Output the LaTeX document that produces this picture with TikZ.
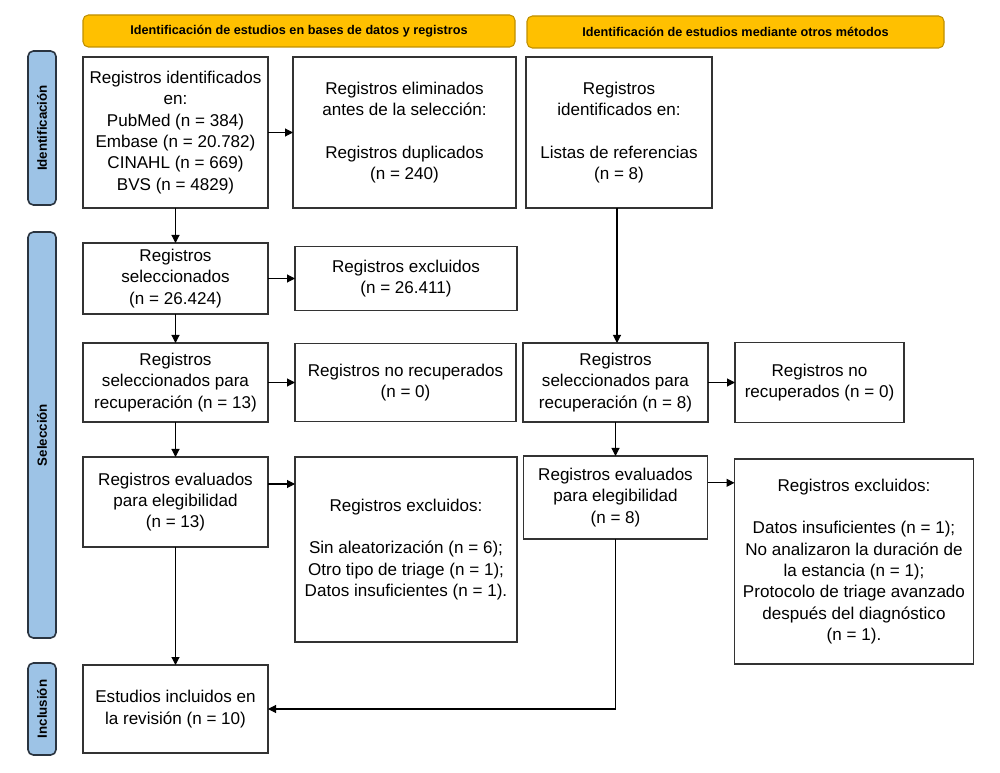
\documentclass[tikz,border=0pt]{standalone}
\usepackage{fontspec}
\setmainfont{Liberation Sans}
\usetikzlibrary{positioning,arrows.meta}

\definecolor{headyellow}{HTML}{FFC000}
\definecolor{headedge}{HTML}{C09000}
\definecolor{phaseblue}{HTML}{9DC3E6}
\definecolor{phaseedge}{HTML}{2A3440}
\definecolor{boxedge}{HTML}{333333}

\begin{document}
\begin{tikzpicture}[x=0.75pt, y=-0.75pt, node distance=20pt,
    box/.style={draw=boxedge, line width=1pt, align=center, inner sep=0pt, outer sep=0pt,
        font=\fontsize{12.8}{16}\selectfont},
    head/.style={draw=headedge, fill=headyellow, rounded corners=4pt, line width=0.8pt, outer sep=0pt,
        minimum height=24pt, inner sep=0pt, font=\fontsize{9.5}{11}\selectfont\bfseries},
    phase/.style={draw=phaseedge, fill=phaseblue, rounded corners=4pt, line width=1.2pt,
        rotate=90, minimum height=21pt, inner sep=0pt, font=\fontsize{10}{12}\selectfont\bfseries},
    arrow/.style={-{Triangle[length=6pt,width=6pt]}, line width=0.8pt}]

    \useasboundingbox (0,0) rectangle (1000,773);

    % databases column
    \node[box, minimum width=138.75pt, minimum height=113.25pt, anchor=north west] (A) at (83,57)
        {Registros identificados\\en:\\PubMed (n = 384)\\Embase (n = 20.782)\\CINAHL (n = 669)\\BVS (n = 4829)};
    \node[box, minimum width=167.25pt, minimum height=113.25pt, right=18.75pt of A] (B)
        {Registros eliminados\\antes de la selección:\\[16pt]Registros duplicados\\(n = 240)};
    \node[box, minimum width=138.75pt, minimum height=53.25pt, below=26.25pt of A] (D)
        {Registros\\seleccionados\\(n = 26.424)};
    \node[box, minimum width=166.5pt, minimum height=48pt, right=20.25pt of D] (E)
        {Registros excluidos\\(n = 26.411)};
    \node[box, minimum width=138.75pt, minimum height=59.25pt, below=21.75pt of D] (F)
        {Registros\\seleccionados para\\recuperación (n = 13)};
    \node[box, minimum width=165.75pt, minimum height=58.5pt, right=20.25pt of F] (G)
        {Registros no recuperados\\(n = 0)};
    \node[box, minimum width=138.75pt, minimum height=67.5pt, below=26.25pt of F] (H)
        {Registros evaluados\\para elegibilidad\\(n = 13)};
    \node[box, minimum width=166.5pt, minimum height=138.75pt, below right=0pt and 20.25pt of H.north east] (I)
        {Registros excluidos:\\[16pt]Sin aleatorización (n = 6);\\Otro tipo de triage (n = 1);\\Datos insuficientes (n = 1).};
    \node[box, minimum width=138.75pt, minimum height=66pt, below=88.5pt of H] (J)
        {Estudios incluidos en\\la revisión (n = 10)};

    % other methods column
    \node[box, minimum width=139.5pt, minimum height=113.25pt, right=7.5pt of B] (C)
        {Registros\\identificados en:\\[16pt]Listas de referencias\\(n = 8)};
    \node[box, minimum width=138.75pt, minimum height=59.25pt, right=191.25pt of F] (K)
        {Registros\\seleccionados para\\recuperación (n = 8)};
    \node[box, minimum width=126.75pt, minimum height=60pt, right=20.25pt of K] (L)
        {Registros no\\recuperados (n = 0)};
    \node[box, minimum width=138pt, minimum height=62.25pt, below=25.5pt of K] (M)
        {Registros evaluados\\para elegibilidad\\(n = 8)};
    \node[box, minimum width=179.25pt, minimum height=153.75pt, below right=2.25pt and 20.25pt of M.north east] (N)
        {Registros excluidos:\\[16pt]Datos insuficientes (n = 1);\\No analizaron la duración de\\la estancia (n = 1);\\Protocolo de triage avanzado\\después del diagnóstico\\(n = 1).};

    % headers
    \node[head, minimum width=324pt, above right=7.5pt and 0pt of A.north west] (HDB)
        {Identificación de estudios en bases de datos y registros};
    \node[head, minimum width=312.75pt, above right=6.75pt and 0.75pt of C.north west] (HOT)
        {Identificación de estudios mediante otros métodos};

    % phases
    \node[phase, minimum width=115.5pt] (P1) at (42,128) {Identificación};
    \node[phase, minimum width=304.5pt] (P2) at (42,435) {Selección};
    \node[phase, minimum width=69pt] (P3) at (42,709) {Inclusión};

    \draw[arrow] (A) -- (B);
    \draw[arrow] (A) -- (D);
    \draw[arrow] (D) -- (E);
    \draw[arrow] (D) -- (F);
    \draw[arrow] (F) -- (G);
    \draw[arrow] (F) -- (H);
    \draw[arrow] ([yshift=13.5pt]H.east) -- ([yshift=13.5pt]H.east -| I.west);
    \draw[arrow] (H) -- (J);
    \draw[arrow] ([xshift=-1.5pt]C.south) -- ([xshift=-1.5pt]C.south |- K.north);
    \draw[arrow] (K) -- (L);
    \draw[arrow] (K) -- (M);
    \draw[arrow] ([yshift=11pt]M.east) -- ([yshift=11pt]M.east -| N.west);
    \draw[arrow] (M.south) |- (J.east);
\end{tikzpicture}
\end{document}
